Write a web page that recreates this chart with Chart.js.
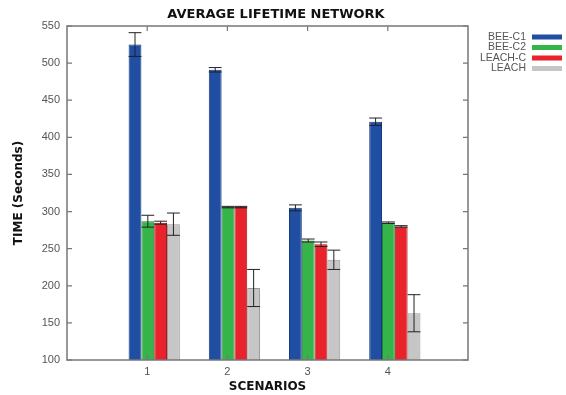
<!DOCTYPE html>
<html>
<head>
<meta charset="utf-8">
<script src="https://cdn.jsdelivr.net/npm/chart.js@4/dist/chart.umd.min.js"></script>
<style>
  html, body { margin: 0; padding: 0; background: #fff; }
  #wrap { width: 566px; height: 395px; }
</style>
</head>
<body>
<div id="wrap"><canvas id="grafico"></canvas></div>
<script>
// ---------------- data ------------------------
const cenarios = [1, 2, 3, 4];
const yTicks = [100, 150, 200, 250, 300, 350, 400, 450, 500, 550];

const beeC1 = [525, 491, 305, 421];
const beeC1Err = [16, 3, 4, 5];
const beeC2 = [287, 306, 261, 285];
const beeC2Err = [8, 1, 2, 1];
const leachC = [285, 306, 256, 280];
const leachCErr = [2, 1, 3, 1];
const leach = [283, 197, 235, 163];
const leachErr = [15, 25, 13, 25];

const tickFont = { family: 'Liberation Sans', size: 11 };
const boldFont = { family: 'DejaVu Sans', size: 12, weight: 'bold' };

// ---------------- plugins ------------------------
// gnuplot style: box border with inward ticks on all sides
const moldura = {
    id: 'moldura',
    afterDatasetsDraw(chart) {
        const ctx = chart.ctx;
        const a = chart.chartArea;
        const y = chart.scales.y;
        const x = chart.scales.x;
        ctx.save();
        ctx.strokeStyle = '#777';
        ctx.lineWidth = 1.5;
        ctx.strokeRect(a.left, a.top, a.right - a.left, a.bottom - a.top);
        ctx.lineWidth = 1.2;
        ctx.beginPath();
        yTicks.forEach(v => {
            const py = y.getPixelForValue(v);
            ctx.moveTo(a.left, py); ctx.lineTo(a.left + 5, py);
            ctx.moveTo(a.right, py); ctx.lineTo(a.right - 5, py);
        });
        cenarios.forEach(v => {
            const px = x.getPixelForValue(v);
            ctx.moveTo(px, a.top); ctx.lineTo(px, a.top + 5);
            ctx.moveTo(px, a.bottom); ctx.lineTo(px, a.bottom - 5);
        });
        ctx.stroke();
        ctx.restore();
    }
};

// error bars from the err arrays
const barrasErro = {
    id: 'barrasErro',
    afterDatasetsDraw(chart) {
        const ctx = chart.ctx;
        const y = chart.scales.y;
        ctx.save();
        ctx.strokeStyle = '#222';
        ctx.lineWidth = 1;
        chart.data.datasets.forEach((ds, i) => {
            const meta = chart.getDatasetMeta(i);
            meta.data.forEach((bar, j) => {
                const v = ds.data[j];
                const e = ds.err[j];
                const top = y.getPixelForValue(v + e);
                const bot = y.getPixelForValue(v - e);
                const half = bar.width / 2;
                ctx.beginPath();
                ctx.moveTo(bar.x, top); ctx.lineTo(bar.x, bot);
                ctx.moveTo(bar.x - half, top); ctx.lineTo(bar.x + half, top);
                ctx.moveTo(bar.x - half, bot); ctx.lineTo(bar.x + half, bot);
                ctx.stroke();
            });
        });
        ctx.restore();
    }
};

// title + key drawn like gnuplot (text on the left, sample on the right)
const tituloLegenda = {
    id: 'tituloLegenda',
    afterDraw(chart) {
        const ctx = chart.ctx;
        ctx.save();
        ctx.fillStyle = '#111';
        ctx.font = 'bold 13px "DejaVu Sans"';
        ctx.textAlign = 'center';
        ctx.textBaseline = 'middle';
        ctx.fillText('AVERAGE LIFETIME NETWORK', 276, 15);

        ctx.font = '10.5px "Liberation Sans"';
        ctx.textAlign = 'right';
        chart.data.datasets.forEach((ds, i) => {
            const ly = 37 + i * 10.5;
            ctx.fillStyle = '#555';
            ctx.fillText(ds.label, 526, ly);
            ctx.fillStyle = ds.backgroundColor;
            ctx.fillRect(532, ly - 2.5, 30, 5);
        });
        ctx.restore();
    }
};

// ---------------- chart ------------------------
const grafico = document.getElementById('grafico');

new Chart(grafico, {
    type: 'bar',
    data: {
        labels: cenarios,
        datasets: [
            { label: 'BEE-C1', data: beeC1, err: beeC1Err, backgroundColor: '#1f4ea3', borderColor: '#173a7a' },
            { label: 'BEE-C2', data: beeC2, err: beeC2Err, backgroundColor: '#35b549', borderColor: '#267f33' },
            { label: 'LEACH-C', data: leachC, err: leachCErr, backgroundColor: '#e8232b', borderColor: '#a8181e' },
            { label: 'LEACH', data: leach, err: leachErr, backgroundColor: '#c6c6c6', borderColor: '#999' }
        ].map(d => Object.assign(d, { xAxisID: 'xb', borderWidth: 1, borderSkipped: false }))
    },
    options: {
        responsive: true,
        maintainAspectRatio: false,
        animation: false,
        layout: { padding: { top: 26, right: 98, left: 0, bottom: 0 } },
        datasets: { bar: { categoryPercentage: 0.7, barPercentage: 1 } },
        scales: {
            x: {
                type: 'linear',
                offset: false,
                min: 0,
                max: 5,
                afterFit(s) { s.height = 35; },
                afterBuildTicks(s) { s.ticks = cenarios.map(v => ({ value: v })); },
                ticks: { color: '#555', font: tickFont, padding: 5 },
                grid: { display: false, drawTicks: false, offset: false },
                border: { display: false },
                title: { display: true, text: 'SCENARIOS', color: '#111', font: boldFont, padding: { top: 2, bottom: 1 } }
            },
            xb: {
                type: 'linear',
                display: false,
                offset: false,
                grid: { offset: false },
                min: -0.0875,
                max: 4.9125
            },
            y: {
                min: 100,
                max: 550,
                afterFit(s) { s.width = 67; },
                afterBuildTicks(s) { s.ticks = yTicks.map(v => ({ value: v })); },
                ticks: { color: '#555', font: tickFont, padding: 7 },
                grid: { display: false, drawTicks: false },
                border: { display: false },
                title: { display: true, text: 'TIME (Seconds)', color: '#111', font: boldFont, padding: { top: 12, bottom: 4 } }
            }
        },
        plugins: {
            legend: { display: false },
            title: { display: false },
            tooltip: { enabled: false }
        }
    },
    plugins: [moldura, barrasErro, tituloLegenda]
});
</script>
</body>
</html>
